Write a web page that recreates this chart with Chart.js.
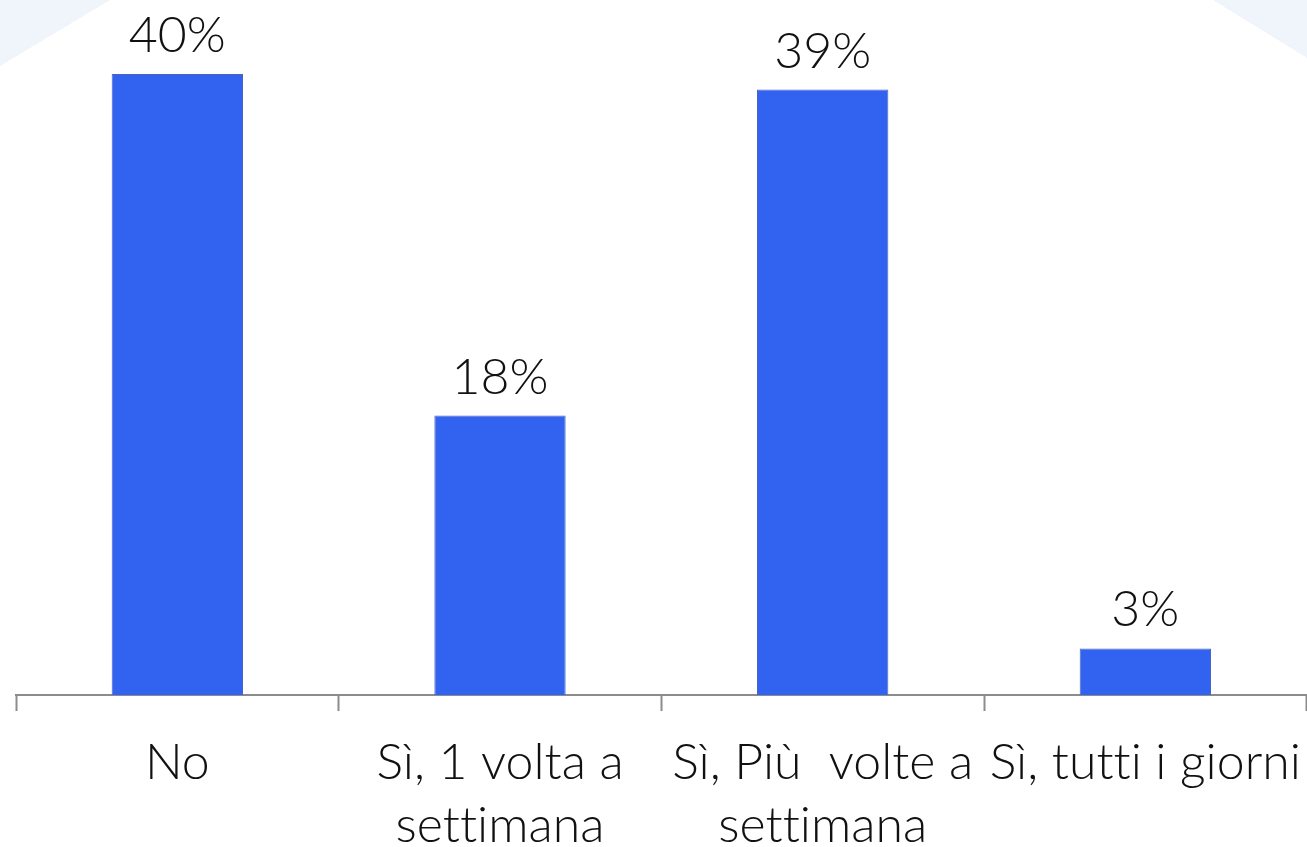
<!DOCTYPE html>
<html lang="it">
<head>
<meta charset="utf-8">
<title>Grafico</title>
<script src="https://cdn.jsdelivr.net/npm/chart.js@4/dist/chart.umd.min.js"></script>
<style>
    html, body {
        margin: 0;
        padding: 0;
        width: 1307px;
        height: 847px;
        overflow: hidden;
        background-color: #ffffff;
        /* angoli decorativi azzurrini */
        background-image:
            linear-gradient(to bottom right, #f0f5fc 50%, rgba(255,255,255,0) 50%),
            linear-gradient(to bottom left, #f0f5fc 50%, rgba(255,255,255,0) 50%);
        background-size: 110px 66px, 94px 58px;
        background-position: left top, right top;
        background-repeat: no-repeat;
    }
    /* il canvas è un po' più grande della pagina: i bordi vuoti restano fuori */
    #grafico {
        display: block;
        width: 1321px;
        height: 877px;
    }
</style>
</head>
<body>
<canvas id="grafico" width="1321" height="877"></canvas>
<script>
// Dati del grafico
const categorie = [
    ['No'],
    ['Sì, 1 volta a', 'settimana'],
    ['Sì, Più  volte a', 'settimana'],
    ['Sì, tutti i giorni']
];
const valori = [40, 18, 39, 3];
const etichetteValori = ['40%', '18%', '39%', '3%'];

const coloreBarre = '#3262f0';
const coloreAsse = '#8c8c8c';
const fontTesto = "'Lato', 'Open Sans', sans-serif";

// Niente legature ("tti") come nell'originale
const senzaLegature = {
    id: 'senzaLegature',
    beforeUpdate(chart) {
        chart.ctx.letterSpacing = '0.01px';
    }
};

// Plugin semplice per scrivere il valore sopra ogni barra
const etichetteSopra = {
    id: 'etichetteSopra',
    afterDatasetsDraw(chart) {
        const ctx = chart.ctx;
        const meta = chart.getDatasetMeta(0);
        ctx.save();
        ctx.font = '300 50px ' + fontTesto;
        ctx.fillStyle = '#111111';
        ctx.textAlign = 'center';
        ctx.textBaseline = 'alphabetic';
        meta.data.forEach((barra, i) => {
            ctx.fillText(etichetteValori[i], barra.x, barra.y - 22);
        });
        ctx.restore();
    }
};

const ctx = document.getElementById('grafico').getContext('2d');
const miGrafico = new Chart(ctx, {
    type: 'bar',
    data: {
        labels: categorie,
        datasets: [{
            data: valori,
            backgroundColor: coloreBarre,
            borderColor: '#4c63c4',
            borderWidth: 1,
            categoryPercentage: 1,
            barPercentage: 0.407
        }]
    },
    options: {
        responsive: false,
        animation: false,
        layout: { padding: { top: 12, left: 16, right: 0, bottom: 0 } },
        plugins: {
            legend: { display: false },
            tooltip: { enabled: false }
        },
        scales: {
            y: {
                display: false,
                min: 0,
                max: 44
            },
            x: {
                grid: {
                    offset: true,
                    drawOnChartArea: false,
                    drawTicks: true,
                    tickLength: 16,
                    tickWidth: 2,
                    color: coloreAsse
                },
                border: { display: true, color: coloreAsse, width: 2 },
                ticks: {
                    autoSkip: false,
                    maxRotation: 0,
                    padding: 20,
                    color: '#111111',
                    font: { family: fontTesto, size: 50, weight: '300', lineHeight: 1.26 }
                }
            }
        }
    },
    plugins: [senzaLegature, etichetteSopra]
});
</script>
</body>
</html>
